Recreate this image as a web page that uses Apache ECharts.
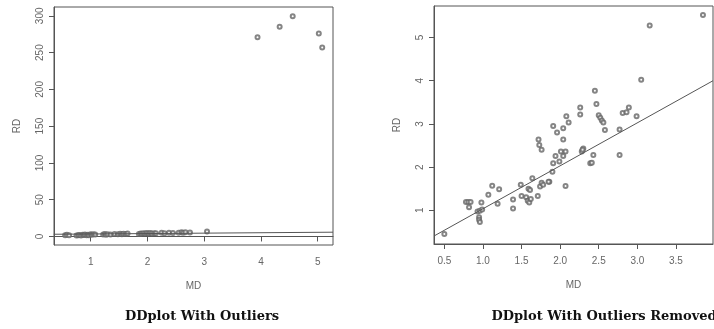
<!DOCTYPE html>
<html>
<head>
<meta charset="utf-8">
<script src="https://cdn.jsdelivr.net/npm/echarts@6/dist/echarts.min.js"></script>
<style>
  html, body { margin: 0; padding: 0; background: #fff; }
  #chart { width: 714px; height: 329px; }
</style>
</head>
<body>
<div id="chart"></div>
<script>
// left panel: all points, outliers included
const leftMD = [0.55, 0.58, 0.62, 0.75, 0.78, 0.8, 0.83, 0.86, 0.88, 0.9, 0.93, 0.95, 0.97, 1.0, 1.02, 1.05, 1.08,
  1.22, 1.25, 1.27, 1.3, 1.35, 1.42, 1.48, 1.52, 1.55, 1.58, 1.62, 1.65,
  1.85, 1.88, 1.9, 1.93, 1.96, 1.99, 2.02, 2.05, 2.08, 2.12, 2.15,
  2.25, 2.3, 2.38, 2.45, 2.55, 2.6, 2.63, 2.67, 2.75, 3.05,
  3.94, 4.33, 4.56, 5.02, 5.08]
const leftRD = [1.5, 2.2, 1.8, 1.2, 1.6, 2.1, 1.4, 2.4, 1.9, 2.6, 1.7, 2.2, 1.5, 2.9, 2.4, 3.1, 2.6,
  2.8, 3.3, 2.5, 3.0, 2.7, 3.2, 2.9, 3.6, 3.1, 3.8, 3.4, 3.9,
  3.3, 4.1, 3.7, 4.4, 3.9, 4.6, 4.2, 4.8, 4.0, 4.5, 4.3,
  4.9, 4.4, 5.1, 4.6, 5.2, 5.6, 4.9, 5.8, 5.3, 6.8,
  271, 285, 299.5, 276, 257]
const leftLineMD = [0.35, 5.27]
const leftLineRD = [3.0, 5.8]

// right panel: outliers removed
const rightMD = [0.5, 0.78, 0.81, 0.84, 0.82, 0.93, 0.96, 0.99, 0.95, 0.95, 0.96, 0.98, 1.12, 1.07, 1.21, 1.19,
  1.39, 1.39, 1.49, 1.5, 1.56, 1.58, 1.6, 1.62, 1.59, 1.61, 1.64, 1.71, 1.74, 1.76, 1.78, 1.86,
  1.72, 1.73, 1.76, 1.9, 1.91, 2.45, 2.47, 2.26, 2.26, 2.08, 2.11, 1.91, 2.04, 1.96, 2.04,
  2.5, 2.52, 2.54, 2.56, 2.58, 2.77, 2.81, 2.86, 2.89, 2.99, 3.05,
  2.01, 2.07, 2.04, 1.94, 1.99, 2.28, 2.3, 2.29, 2.43, 2.39, 2.41, 2.77, 2.07, 1.85, 3.16, 3.85]
const rightRD = [0.45, 1.19, 1.19, 1.19, 1.07, 0.97, 0.99, 1.02, 0.84, 0.78, 0.73, 1.18, 1.57, 1.36, 1.49, 1.15,
  1.25, 1.04, 1.59, 1.33, 1.3, 1.22, 1.18, 1.26, 1.5, 1.47, 1.74, 1.33, 1.55, 1.64, 1.59, 1.66,
  2.64, 2.51, 2.4, 1.89, 2.09, 3.77, 3.46, 3.38, 3.22, 3.18, 3.03, 2.95, 2.9, 2.8, 2.64,
  3.2, 3.14, 3.08, 3.03, 2.86, 2.87, 3.25, 3.27, 3.38, 3.18, 4.02,
  2.36, 2.36, 2.26, 2.26, 2.13, 2.36, 2.43, 2.4, 2.28, 2.09, 2.1, 2.28, 1.56, 1.66, 5.28, 5.52]
const rightLineMD = [0.366, 3.98]
const rightLineRD = [0.405, 4.0]

const leftXTicks = [1, 2, 3, 4, 5]
const leftYTicks = [0, 50, 100, 150, 200, 250, 300]
const rightXTicks = [0.5, 1.0, 1.5, 2.0, 2.5, 3.0, 3.5]
const rightYTicks = [1, 2, 3, 4, 5]

const zip = (xs, ys) => xs.map((x, i) => [x, ys[i]])

const ink = "#555"
const labelStyle = { color: "#666", fontSize: 10, fontFamily: "Liberation Sans" }

const xAxisOf = (gridIndex, min, max, ticks, fmt) => ({
  type: "value", gridIndex, min, max,
  name: "MD", nameLocation: "middle", nameGap: 36,
  nameTextStyle: { color: "#666", fontSize: 10, fontFamily: "Liberation Sans" },
  axisLine: { show: true, lineStyle: { color: ink } },
  axisTick: { show: true, length: 5, customValues: ticks, lineStyle: { color: ink } },
  axisLabel: { ...labelStyle, margin: 12, customValues: ticks, formatter: fmt },
  splitLine: { show: false }
})

const yAxisOf = (gridIndex, min, max, ticks) => ({
  type: "value", gridIndex, min, max,
  name: "RD", nameLocation: "middle", nameGap: 32, nameRotate: 90,
  nameTextStyle: { color: "#666", fontSize: 10, fontFamily: "Liberation Sans" },
  axisLine: { show: true, lineStyle: { color: ink } },
  axisTick: { show: true, length: 5, customValues: ticks, lineStyle: { color: ink } },
  axisLabel: { ...labelStyle, margin: 9, rotate: 90, customValues: ticks },
  splitLine: { show: false }
})

const pointSeries = (idx, data) => ({
  type: "scatter", xAxisIndex: idx, yAxisIndex: idx, data,
  symbol: "emptyCircle", symbolSize: 4,
  itemStyle: { color: "#666", borderColor: "#666", borderWidth: 0.7 },
  silent: true
})

const lineSeries = (idx, data) => ({
  type: "line", xAxisIndex: idx, yAxisIndex: idx, data,
  symbol: "none", lineStyle: { color: "#555", width: 1 }, silent: true
})

const chart = echarts.init(document.getElementById("chart"))
chart.setOption({
  animation: false,
  title: [
    { text: "DDplot With Outliers", left: 197, top: 305, textAlign: "center",
      textStyle: { fontFamily: "DejaVu Serif", fontWeight: "bold", fontSize: 13, color: "#111" } },
    { text: "DDplot With Outliers Removed", left: 599, top: 305, textAlign: "center",
      textStyle: { fontFamily: "DejaVu Serif", fontWeight: "bold", fontSize: 13, color: "#111" } }
  ],
  grid: [
    { left: 54, right: 381, top: 7, bottom: 84, show: true, borderColor: ink, borderWidth: 1 },
    { left: 434, right: 1, top: 6, bottom: 85, show: true, borderColor: ink, borderWidth: 1 }
  ],
  xAxis: [
    xAxisOf(0, 0.354, 5.27, leftXTicks),
    xAxisOf(1, 0.366, 3.98, rightXTicks, (v) => v.toFixed(1))
  ],
  yAxis: [
    yAxisOf(0, -11.6, 312, leftYTicks),
    yAxisOf(1, 0.22, 5.73, rightYTicks)
  ],
  series: [
    pointSeries(0, zip(leftMD, leftRD)),
    lineSeries(0, zip(leftLineMD, leftLineRD)),
    pointSeries(1, zip(rightMD, rightRD)),
    lineSeries(1, zip(rightLineMD, rightLineRD))
  ]
})
</script>
</body>
</html>
